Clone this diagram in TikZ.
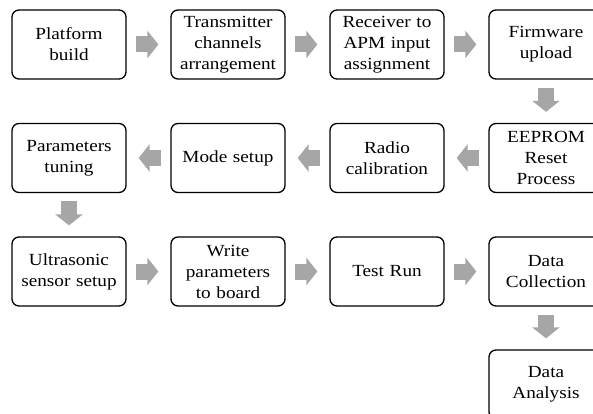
\documentclass[tikz,border=0pt]{standalone}
\usepackage{fontspec}
\setmainfont{Liberation Serif}[FakeStretch=1.13]
\usetikzlibrary{arrows.meta}
\tikzset{
  stepbox/.style={draw=black, line width=1.3pt, rounded corners=7pt, fill=white,
    minimum width=114pt, minimum height=69pt, inner sep=0pt, text width=110pt,
    align=center, font=\fontsize{17}{21}\selectfont},
  flowarrow/.style={draw=arrowgray, line width=16pt,
    -{Triangle[length=11pt, width=27pt, fill=arrowgray]}}
}
\definecolor{arrowgray}{HTML}{A6A6A6}
\begin{document}
\begin{tikzpicture}[x=1pt,y=-1pt]
\clip (0,0) rectangle (593,414);
\fill[white] (0,0) rectangle (593,414);
% row 1
\node[stepbox] (pb) at (69,44.5) {Platform\\build};
\node[stepbox] (tc) at (228,44.5) {Transmitter\\channels\\arrangement};
\node[stepbox] (ra) at (387,44.5) {Receiver to\\APM input\\assignment};
\node[stepbox] (fu) at (546,44.5) {Firmware\\upload};
% row 2
\node[stepbox] (pt) at (69,158) {Parameters\\tuning};
\node[stepbox] (ms) at (228,158) {Mode setup};
\node[stepbox] (rc) at (387,158) {Radio\\calibration};
\node[stepbox] (ee) at (546,158) {EEPROM\\Reset\\Process};
% row 3
\node[stepbox] (us) at (69,271.5) {Ultrasonic\\sensor setup};
\node[stepbox] (wp) at (228,271.5) {Write\\parameters\\to board};
\node[stepbox] (tr) at (387,271.5) {Test Run};
\node[stepbox] (dc) at (546,271.5) {Data\\Collection};
% row 4
\node[stepbox] (da) at (546,384.5) {Data\\Analysis};
% arrows row 1
\draw[flowarrow] ([xshift=9pt]pb.east) -- ([xshift=-12pt]tc.west);
\draw[flowarrow] ([xshift=9pt]tc.east) -- ([xshift=-12pt]ra.west);
\draw[flowarrow] ([xshift=9pt]ra.east) -- ([xshift=-12pt]fu.west);
% down
\draw[flowarrow] ([yshift=-8pt]fu.south) -- ([yshift=11pt]ee.north);
% row 2 leftwards
\draw[flowarrow] ([xshift=-9pt]ee.west) -- ([xshift=12pt]rc.east);
\draw[flowarrow] ([xshift=-9pt]rc.west) -- ([xshift=12pt]ms.east);
\draw[flowarrow] ([xshift=-9pt]ms.west) -- ([xshift=12pt]pt.east);
% down
\draw[flowarrow] ([yshift=-8pt]pt.south) -- ([yshift=11pt]us.north);
% row 3
\draw[flowarrow] ([xshift=9pt]us.east) -- ([xshift=-12pt]wp.west);
\draw[flowarrow] ([xshift=9pt]wp.east) -- ([xshift=-12pt]tr.west);
\draw[flowarrow] ([xshift=9pt]tr.east) -- ([xshift=-12pt]dc.west);
% down
\draw[flowarrow] ([yshift=-8pt]dc.south) -- ([yshift=11pt]da.north);
\end{tikzpicture}
\end{document}
